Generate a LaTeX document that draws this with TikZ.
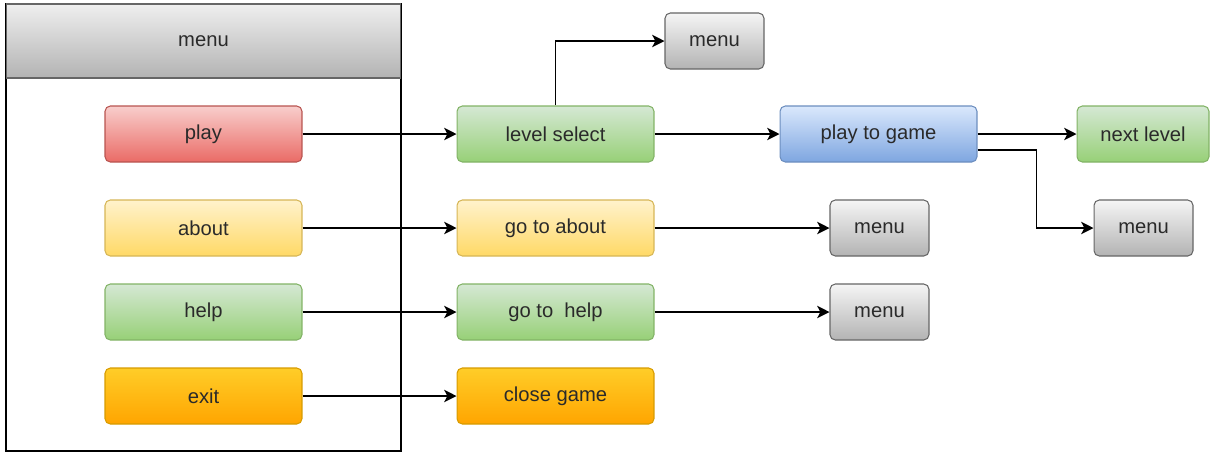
\documentclass[tikz,border=0pt]{standalone}
\usepackage{fontspec}
\setmainfont{Liberation Sans}
\usetikzlibrary{arrows.meta}
\definecolor{redtop}{HTML}{F8CECC}
\definecolor{redbot}{HTML}{EA6B66}
\definecolor{redline}{HTML}{B85450}
\definecolor{yeltop}{HTML}{FFF2CC}
\definecolor{yelbot}{HTML}{FFD966}
\definecolor{yelline}{HTML}{D6B656}
\definecolor{grntop}{HTML}{D5E8D4}
\definecolor{grnbot}{HTML}{97D077}
\definecolor{grnline}{HTML}{82B366}
\definecolor{orgtop}{HTML}{FFCD28}
\definecolor{orgbot}{HTML}{FFA500}
\definecolor{orgline}{HTML}{D79B00}
\definecolor{blutop}{HTML}{DAE8FC}
\definecolor{blubot}{HTML}{7EA6E0}
\definecolor{bluline}{HTML}{6C8EBF}
\definecolor{gratop}{HTML}{F5F5F5}
\definecolor{grabot}{HTML}{B3B3B3}
\definecolor{graline}{HTML}{666666}
\definecolor{textgray}{HTML}{2A2A2A}
\begin{document}
\begin{tikzpicture}[
		x=0.02cm,
		y=-0.02cm,
		font=\fontsize{11.5}{13}\selectfont
	]
	\tikzset{
		mybox/.style = {rounded corners=3pt, inner sep=0pt, minimum width=3.94cm,
			minimum height=1.12cm, text=textgray, line width=0.6pt},
		redbox/.style = {mybox, draw=redline, top color=redtop, bottom color=redbot},
		yelbox/.style = {mybox, draw=yelline, top color=yeltop, bottom color=yelbot},
		grnbox/.style = {mybox, draw=grnline, top color=grntop, bottom color=grnbot},
		orgbox/.style = {mybox, draw=orgline, top color=orgtop, bottom color=orgbot},
		blubox/.style = {mybox, draw=bluline, top color=blutop, bottom color=blubot},
		grabox/.style = {mybox, minimum width=1.98cm, draw=graline, top color=gratop, bottom color=grabot},
		frame/.style = {draw=black, line width=0.8pt, inner sep=0pt, minimum width=7.9cm, minimum height=8.94cm},
		header/.style = {draw=graline, line width=0.6pt, inner sep=0pt, minimum width=7.9cm,
			minimum height=1.48cm, text=textgray, top color=gratop!90!grabot, bottom color=grabot},
		myarrow/.style = {-{Stealth[length=7pt, width=7pt, inset=1.8pt]}, line width=0.9pt},
	}
	\useasboundingbox (0,0) rectangle (1219,454);
	% menu column
	\node[frame] at (203.5,227.5) (frame) {};
	\node[header] at (203.5,41) (head) {menu};
	\node[redbox] at (203.5,134) (play) {play};
	\node[yelbox] at (203.5,228) (about) {about};
	\node[grnbox] at (203.5,312) (help) {help};
	\node[orgbox] at (203.5,396) (exit) {exit};
	% second column
	\node[grnbox] at (555.5,134) (lsel) {level select};
	\node[yelbox] at (555.5,228) (gabout) {go to about};
	\node[grnbox] at (555.5,312) (ghelp) {go to\ \ help};
	\node[orgbox] at (555.5,396) (close) {close game};
	\node[grabox] at (714.5,41) (menua) {menu};
	% third column
	\node[blubox] at (878.5,134) (game) {play to game};
	\node[grabox] at (879.5,228) (menub) {menu};
	\node[grabox] at (879.5,312) (menuc) {menu};
	\node[grnbox, minimum width=2.64cm] at (1143,134) (next) {next level};
	\node[grabox] at (1143.5,228) (menud) {menu};
	%
	\draw[myarrow] (play) -- (lsel);
	\draw[myarrow] (about) -- (gabout);
	\draw[myarrow] (help) -- (ghelp);
	\draw[myarrow] (exit) -- (close);
	%
	\draw[myarrow] (lsel.north) |- (menua.west);
	\draw[myarrow] (lsel) -- (game);
	\draw[myarrow] (gabout) -- (menub);
	\draw[myarrow] (ghelp) -- (menuc);
	%
	\draw[myarrow] (game) -- (next);
	\draw[myarrow] ([yshift=-0.32cm]game.east) -- ++(59,0) |- (menud.west);
\end{tikzpicture}
\end{document}
